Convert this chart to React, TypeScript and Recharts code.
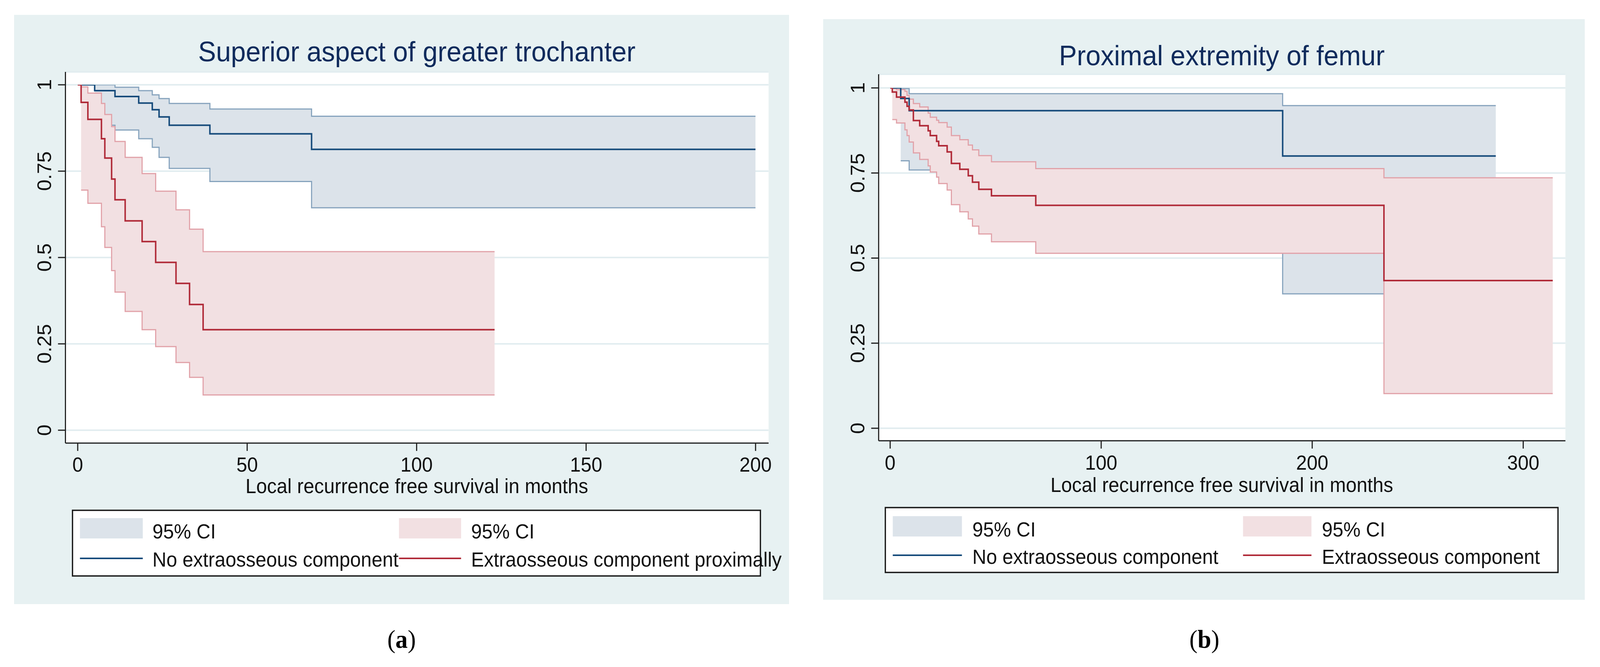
import { ComposedChart, Line, Area, XAxis, YAxis, CartesianGrid } from "recharts";

// 공통 설정값
const PAGE_W = 4303;
const PAGE_H = 1707;
const FONT = '"Liberation Sans", Arial, Helvetica, sans-serif';
const SERIF = '"Liberation Serif", "Times New Roman", serif';
const BG = "#e7f1f2";
const GRID = "#e2edf0";
const AXIS = "#1e1e1e";
const TITLE = "#0f2b5c";
const BLUE = "#164b7b";
const RED = "#b02a38";
const BLUE_FILL = "#dce3ea";
const BLUE_EDGE = "#86a3bd";
const RED_FILL = "#f2e0e2";
const RED_EDGE = "#e1a1a8";

const Y_TICKS = [0, 0.25, 0.5, 0.75, 1];

// (a) Superior aspect of greater trochanter
const aXTicks = [0, 50, 100, 150, 200];
const aNoExtTime = [0, 5, 11, 18, 22, 24, 27, 39, 69, 200];
const aNoExtSurv = [1, 0.983, 0.966, 0.947, 0.928, 0.907, 0.883, 0.858, 0.813, 0.813];
const aNoExtCiTime = [5, 11, 18, 22, 24, 27, 39, 69, 200];
const aNoExtLower = [0.883, 0.869, 0.844, 0.819, 0.79, 0.758, 0.72, 0.644, 0.644];
const aNoExtUpper = [1, 0.993, 0.983, 0.971, 0.96, 0.946, 0.93, 0.909, 0.909];
const aExtTime = [0, 1, 3, 7, 8, 10, 11, 14, 19, 23, 29, 33, 37, 123];
const aExtSurv = [1, 0.949, 0.9, 0.844, 0.788, 0.727, 0.667, 0.606, 0.546, 0.486, 0.425, 0.364, 0.291, 0.291];
const aExtCiTime = [1, 3, 7, 8, 10, 11, 14, 19, 23, 29, 33, 37, 123];
const aExtLower = [0.695, 0.657, 0.589, 0.529, 0.462, 0.4, 0.344, 0.291, 0.242, 0.196, 0.153, 0.102, 0.102];
const aExtUpper = [0.994, 0.976, 0.946, 0.914, 0.879, 0.836, 0.79, 0.743, 0.692, 0.638, 0.582, 0.517, 0.517];

// (b) Proximal extremity of femur
const bXTicks = [0, 100, 200, 300];
const bNoExtTime = [0, 5, 9, 186, 287];
const bNoExtSurv = [1, 0.969, 0.933, 0.8, 0.8];
const bNoExtCiTime = [5, 9, 186, 287];
const bNoExtLower = [0.786, 0.759, 0.395, 0.395];
const bNoExtUpper = [0.998, 0.983, 0.948, 0.948];
const bExtTime = [0, 1, 3, 7, 8, 9, 11, 14, 18, 19, 22, 23, 27, 29, 33, 37, 39, 42, 48, 69, 234, 314];
const bExtSurv = [1, 0.988, 0.973, 0.958, 0.946, 0.935, 0.904, 0.889, 0.874, 0.86, 0.843, 0.83, 0.812, 0.778, 0.761, 0.742, 0.723, 0.702, 0.683, 0.655, 0.434, 0.434];
const bExtCiTime = [1, 3, 7, 8, 9, 11, 14, 18, 19, 22, 23, 27, 29, 33, 37, 39, 42, 48, 69, 234, 314];
const bExtLower = [0.907, 0.897, 0.877, 0.86, 0.841, 0.809, 0.79, 0.771, 0.753, 0.738, 0.719, 0.7, 0.657, 0.636, 0.615, 0.594, 0.571, 0.548, 0.514, 0.102, 0.102];
const bExtUpper = [0.998, 0.995, 0.99, 0.978, 0.967, 0.954, 0.944, 0.926, 0.914, 0.905, 0.898, 0.885, 0.86, 0.848, 0.832, 0.818, 0.801, 0.783, 0.763, 0.736, 0.736];

const toCurve = (time: number[], surv: number[]) => time.map((t, i) => ({ t, s: surv[i] }));
const toBand = (time: number[], lo: number[], hi: number[]) =>
  time.map((t, i) => ({ t, lo: lo[i], hi: hi[i] }));

// 페이지 여백 제거
if (typeof document !== "undefined") {
  document.documentElement.style.overflow = "hidden";
  document.body.style.margin = "0";
  document.body.style.overflow = "hidden";
}

interface PanelLayout {
  left: number;
  top: number;
  width: number;
  height: number;
  margin: { top: number; right: number; bottom: number; left: number };
  xDomain: [number, number];
  xPad: { left: number; right: number };
  yPad: { top: number; bottom: number };
  xTicks: number[];
  xLabelDy: number;
}

const LAYOUT_A: PanelLayout = {
  left: 38,
  top: 38,
  width: 2084,
  height: 1508,
  margin: { top: 146, right: 55, bottom: 262, left: 38 },
  xDomain: [0, 200],
  xPad: { left: 33, right: 35 },
  yPad: { top: 33, bottom: 33 },
  xTicks: aXTicks,
  xLabelDy: 53,
};

const LAYOUT_B: PanelLayout = {
  left: 2214,
  top: 49,
  width: 2048,
  height: 1486,
  margin: { top: 141, right: 52, bottom: 257, left: 49 },
  xDomain: [0, 320],
  xPad: { left: 31, right: 0 },
  yPad: { top: 35, bottom: 32 },
  xTicks: bXTicks,
  xLabelDy: 54,
};

const xTick = (dy: number) => (props: any) => (
  <text x={props.x} y={props.y + dy} textAnchor="middle" fontSize={52} fontFamily={FONT} fill="#111">
    {props.payload.value}
  </text>
);

const yTick = (props: any) => (
  <text
    transform={`translate(${props.x - 18},${props.y}) rotate(-90)`}
    textAnchor="middle"
    fontSize={52}
    fontFamily={FONT}
    fill="#111"
  >
    {props.payload.value}
  </text>
);

interface KMProps {
  layout: PanelLayout;
  blueCurve: { t: number; s: number }[];
  blueBand: { t: number; lo: number; hi: number }[];
  redCurve: { t: number; s: number }[];
  redBand: { t: number; lo: number; hi: number }[];
}

function KMChart({ layout, blueCurve, blueBand, redCurve, redBand }: KMProps) {
  return (
    <div style={{ position: "absolute", left: layout.left, top: layout.top, background: BG }}>
      <ComposedChart width={layout.width} height={layout.height} margin={layout.margin}>
        <CartesianGrid vertical={false} stroke={GRID} strokeWidth={4} fill="#ffffff" fillOpacity={1} />
        <XAxis
          type="number"
          dataKey="t"
          domain={layout.xDomain}
          ticks={layout.xTicks}
          interval={0}
          allowDataOverflow
          padding={layout.xPad}
          height={150}
          tickSize={20}
          tickMargin={0}
          axisLine={{ stroke: AXIS, strokeWidth: 3 }}
          tickLine={{ stroke: AXIS, strokeWidth: 3 }}
          tick={xTick(layout.xLabelDy)}
        />
        <YAxis
          type="number"
          domain={[0, 1]}
          ticks={Y_TICKS}
          interval={0}
          allowDataOverflow
          padding={layout.yPad}
          width={100}
          tickSize={20}
          tickMargin={0}
          axisLine={{ stroke: AXIS, strokeWidth: 3 }}
          tickLine={{ stroke: AXIS, strokeWidth: 3 }}
          tick={yTick}
        />
        <Area
          data={blueBand}
          dataKey={(d: any) => [d.lo, d.hi]}
          type="stepAfter"
          fill={BLUE_FILL}
          fillOpacity={1}
          stroke={BLUE_EDGE}
          strokeWidth={3}
          isAnimationActive={false}
        />
        <Area
          data={redBand}
          dataKey={(d: any) => [d.lo, d.hi]}
          type="stepAfter"
          fill={RED_FILL}
          fillOpacity={1}
          stroke={RED_EDGE}
          strokeWidth={3}
          isAnimationActive={false}
        />
        <Line data={blueCurve} dataKey="s" type="stepAfter" stroke={BLUE} strokeWidth={4} dot={false} isAnimationActive={false} />
        <Line data={redCurve} dataKey="s" type="stepAfter" stroke={RED} strokeWidth={4} dot={false} isAnimationActive={false} />
      </ComposedChart>
    </div>
  );
}

interface LegendProps {
  box: [number, number, number, number];
  row1: number;
  row2: number;
  swatchH: number;
  col1: [number, number, number];
  col2: [number, number, number];
  lineY: number;
  labels: [string, string];
}

function LegendBox({ box, row1, row2, swatchH, col1, col2, lineY, labels }: LegendProps) {
  const [x, y, w, h] = box;
  const txt = { fontSize: 52, fontFamily: FONT, fill: "#111" };
  return (
    <g>
      <rect x={x} y={y} width={w} height={h} fill="#fff" stroke="#1a1a1a" strokeWidth={3.5} />
      <rect x={col1[0]} y={row1 - swatchH} width={col1[1] - col1[0]} height={swatchH} fill={BLUE_FILL} />
      <text x={col1[2]} y={row1} {...txt}>95% CI</text>
      <rect x={col2[0]} y={row1 - swatchH} width={col2[1] - col2[0]} height={swatchH} fill={RED_FILL} />
      <text x={col2[2]} y={row1} {...txt}>95% CI</text>
      <line x1={col1[0]} x2={col1[1]} y1={lineY} y2={lineY} stroke={BLUE} strokeWidth={4} />
      <text x={col1[2]} y={row2} {...txt}>{labels[0]}</text>
      <line x1={col2[0]} x2={col2[1]} y1={lineY} y2={lineY} stroke={RED} strokeWidth={4} />
      <text x={col2[2]} y={row2} {...txt}>{labels[1]}</text>
    </g>
  );
}

export default function App() {
  // 창 크기에 맞춰 전체 그림을 축소/확대
  const sx = typeof window !== "undefined" && window.innerWidth ? window.innerWidth / PAGE_W : 1;
  const sy = typeof window !== "undefined" && window.innerHeight ? window.innerHeight / PAGE_H : 1;

  return (
    <div
      style={{
        position: "absolute",
        left: 0,
        top: 0,
        width: PAGE_W,
        height: PAGE_H,
        background: "#fff",
        transform: `scale(${sx}, ${sy})`,
        transformOrigin: "0 0",
      }}
    >
      <div style={{ position: "absolute", left: 38, top: 38, width: 2084, height: 1508, background: BG }} />
      <div style={{ position: "absolute", left: 2214, top: 49, width: 2048, height: 1486, background: BG }} />

      <KMChart
        layout={LAYOUT_A}
        blueCurve={toCurve(aNoExtTime, aNoExtSurv)}
        blueBand={toBand(aNoExtCiTime, aNoExtLower, aNoExtUpper)}
        redCurve={toCurve(aExtTime, aExtSurv)}
        redBand={toBand(aExtCiTime, aExtLower, aExtUpper)}
      />
      <KMChart
        layout={LAYOUT_B}
        blueCurve={toCurve(bNoExtTime, bNoExtSurv)}
        blueBand={toBand(bNoExtCiTime, bNoExtLower, bNoExtUpper)}
        redCurve={toCurve(bExtTime, bExtSurv)}
        redBand={toBand(bExtCiTime, bExtLower, bExtUpper)}
      />

      {/* 제목, 축 제목, 범례, 캡션 */}
      <svg
        width={PAGE_W}
        height={PAGE_H}
        style={{ position: "absolute", left: 0, top: 0, pointerEvents: "none" }}
      >
        <text x={1121} y={157} textAnchor="middle" fontSize={72} fontFamily={FONT} fill={TITLE}>
          Superior aspect of greater trochanter
        </text>
        <text x={1121} y={1262} textAnchor="middle" fontSize={52} fontFamily={FONT} fill="#111">
          Local recurrence free survival in months
        </text>
        <LegendBox
          box={[195, 1306, 1850, 168]}
          row1={1378}
          row2={1450}
          swatchH={52}
          col1={[215, 384, 410]}
          col2={[1073, 1240, 1267]}
          lineY={1429}
          labels={["No extraosseous component", "Extraosseous component proximally"]}
        />
        <text x={1080} y={1658} textAnchor="middle" fontSize={66} fontFamily={SERIF} fill="#000">
          (<tspan fontWeight="bold">a</tspan>)
        </text>

        <text x={3286} y={167} textAnchor="middle" fontSize={72} fontFamily={FONT} fill={TITLE}>
          Proximal extremity of femur
        </text>
        <text x={3286} y={1259} textAnchor="middle" fontSize={52} fontFamily={FONT} fill="#111">
          Local recurrence free survival in months
        </text>
        <LegendBox
          box={[2381, 1299, 1809, 166]}
          row1={1373}
          row2={1443}
          swatchH={52}
          col1={[2401, 2587, 2615]}
          col2={[3343, 3527, 3555]}
          lineY={1421}
          labels={["No extraosseous component", "Extraosseous component"]}
        />
        <text x={3239} y={1658} textAnchor="middle" fontSize={66} fontFamily={SERIF} fill="#000">
          (<tspan fontWeight="bold">b</tspan>)
        </text>
      </svg>
    </div>
  );
}
